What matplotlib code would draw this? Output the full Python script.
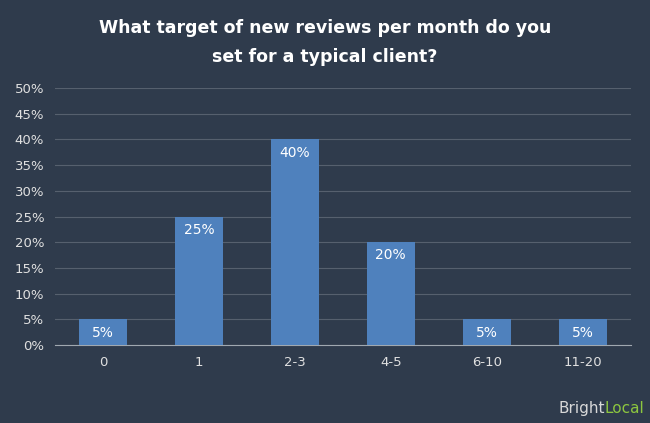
import matplotlib.pyplot as plt
import numpy as np

categories = ["0", "1", "2-3", "4-5", "6-10", "11-20"]
values = [5, 25, 40, 20, 5, 5]
yticks = [0, 5, 10, 15, 20, 25, 30, 35, 40, 45, 50]

bg = "#2f3b4c"
fig = plt.figure(figsize=(6.5, 4.23), dpi=100, facecolor=bg)
ax = fig.add_axes([0.085, 0.184, 0.885, 0.608], facecolor=bg)

x = np.arange(len(categories))
ax.bar(x, values, width=0.5, color="#4f81bd", zorder=3)
for xi, v in zip(x, values):
    ax.text(xi, v - 1.2, f"{v}%", ha="center", va="top", color="white", fontsize=10, zorder=4)

ax.set_xlim(-0.5, len(categories) - 0.5)
ax.set_ylim(0, 50)
ax.set_yticks(yticks)
ax.set_yticklabels([f"{t}%" for t in yticks], color="#e0e0e0", fontsize=9.5)
ax.set_xticks(x)
ax.set_xticklabels(categories, color="#e0e0e0", fontsize=9.5)
ax.grid(axis="y", color="#56606e", linewidth=0.8, zorder=0)
for s in ["top", "right", "left"]:
    ax.spines[s].set_visible(False)
ax.spines["bottom"].set_color("#a0a8b0")
ax.tick_params(length=0, pad=8)

fig.text(0.5, 0.9, "What target of new reviews per month do you\nset for a typical client?",
         ha="center", va="center", color="white", fontsize=12.5, fontweight="bold", linespacing=1.8)
fig.text(0.93, 0.035, "Bright", ha="right", va="center", color="#d8d8d8", fontsize=11)
fig.text(0.93, 0.035, "Local", ha="left", va="center", color="#8dc63f", fontsize=11)

fig.savefig("out.png", dpi=100, facecolor=bg)
